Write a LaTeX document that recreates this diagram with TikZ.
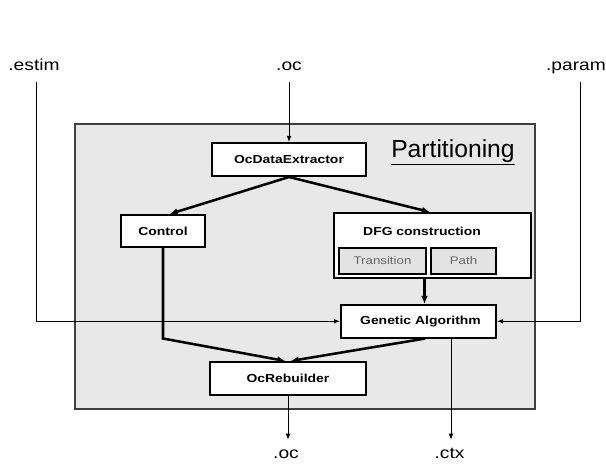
\documentclass[tikz,border=0pt]{standalone}
\usepackage{fontspec}
\setmainfont[FakeStretch=1.2]{Liberation Sans}
\newfontfamily\titlefont{Liberation Sans}
\usepackage{tikz}
\usetikzlibrary{positioning,arrows.meta}
\definecolor{c_panel}{rgb}{0.91, 0.91, 0.91}
\definecolor{c_sub}{rgb}{0.89, 0.89, 0.89}
\tikzset{c-box/.style={rectangle, draw=black, line width=1.5pt, fill=white, inner sep=0pt, font=\bfseries\fontsize{8.7}{10}\selectfont},
sub-box/.style={rectangle, draw=black, line width=1.2pt, fill=c_sub, inner sep=0pt, text=black!60, font=\fontsize{8.3}{10}\selectfont},
panel-box/.style={rectangle, draw=black!75, line width=1.5pt, fill=c_panel},
io/.style={inner sep=0pt, text height=6pt, text depth=0pt, anchor=base, font=\fontsize{12}{14}\selectfont},
arrow/.style={line width=1.9pt,-{Latex[length=6pt,width=5pt]}},
thin-arrow/.style={line width=0.75pt,-{Latex[length=4.5pt,width=3.6pt]}}}

\begin{document}
\begin{tikzpicture}[x=0.75pt, y=-0.75pt]
\useasboundingbox (0,0) rectangle (606,466);
\node (panel) [panel-box, minimum width=345pt, minimum height=213.75pt] at (305,266.5) {};
\node (title) [anchor=base west, inner sep=0pt, font=\titlefont\fontsize{18.5}{20}\selectfont] at (391,157.7) {\underline{Partitioning}};
% boxes
\node (ext) [c-box, minimum width=115.5pt, minimum height=24.75pt] at (289,159.5) {OcDataExtractor};
\node (ctrl) [c-box, minimum width=63pt, minimum height=24pt] at (163,231) {Control};
\node (dfg) [c-box, minimum width=147.75pt, minimum height=48.75pt] at (432.5,245.5) {};
\node (dfgt) [inner sep=0pt, font=\bfseries\fontsize{8.7}{10}\selectfont] at (422,231) {DFG construction};
\node (trans) [sub-box, minimum width=65.25pt, minimum height=19.5pt] at (382.5,261) {Transition};
\node (path) [sub-box, minimum width=48.75pt, minimum height=19.5pt] at (463.5,261) {Path};
\node (ga) [c-box, minimum width=116.25pt, minimum height=24.4pt] at (418.5,321.25) {\hspace*{3pt}Genetic Algorithm};
\node (reb) [c-box, minimum width=117pt, minimum height=24.4pt] at (288,378.25) {OcRebuilder};
% inputs and outputs
\node (estim) [io] at (34,71) {.estim};
\node (ocin) [io] at (289,71) {.oc};
\node (param) [io] at (576,71) {.param};
\node (ocout) [io] at (286,458) {.oc};
\node (ctx) [io] at (449.5,458) {.ctx};
% connectors
\draw [thin-arrow, shorten <=8pt] (ocin.south) -- (ext.north);
\draw [thin-arrow, shorten <=8pt] ([xshift=2.2pt]estim.south) |- (ga.west);
\draw [thin-arrow, shorten <=8pt] ([xshift=3pt]param.south) |- (ga.east);
\draw [arrow] (ext.south) -- ([xshift=5pt]ctrl.north);
\draw [arrow] (ext.south) -- ([xshift=-2pt]dfg.north);
\draw [arrow] ([xshift=-6pt]dfg.south) -- ([xshift=-6pt]dfg.south |- ga.north);
\draw [arrow] (ctrl.south) -- (ctrl.south |- ga.south) -- ([xshift=-2pt]reb.north);
\draw [arrow] ([xshift=5pt]ga.south) -- ([xshift=2pt]reb.north);
\draw [thin-arrow, shorten >=7.5pt] (reb.south) -- (reb.south |- ocout.north);
\draw [thin-arrow, shorten >=7.5pt] ([xshift=24.4pt]ga.south) -- ([xshift=24.4pt]ga.south |- ctx.north);
\end{tikzpicture}
\end{document}
